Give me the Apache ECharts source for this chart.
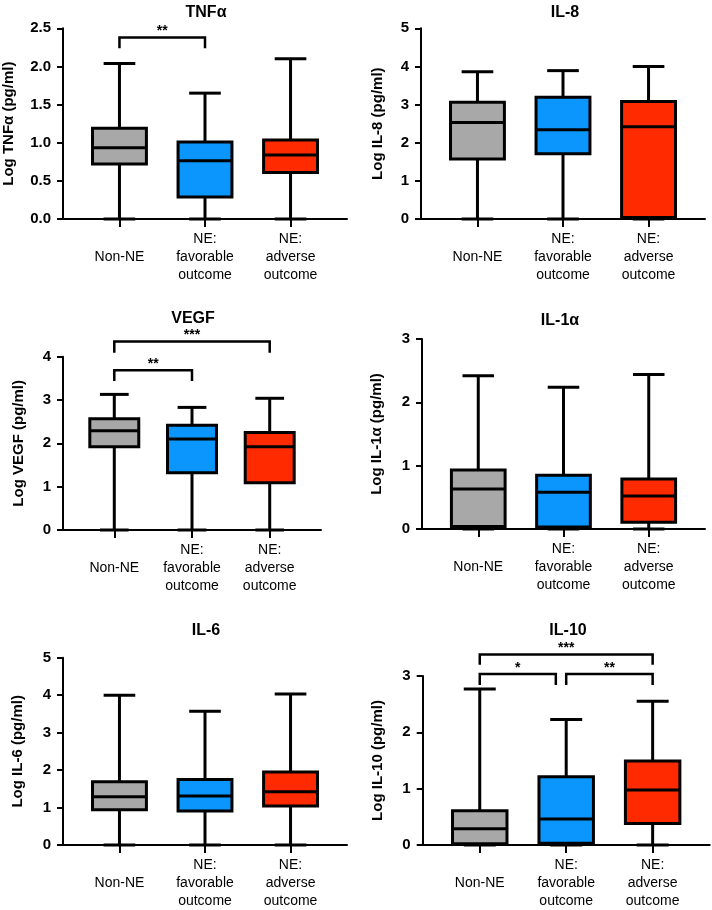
<!DOCTYPE html>
<html><head><meta charset="utf-8">
<script src="https://cdn.jsdelivr.net/npm/echarts@6/dist/echarts.min.js"></script>
<style>html,body{margin:0;padding:0;background:#fff}#c{width:712px;height:910px}</style>
</head><body><div id="c"></div>
<script>
// ---- data ----
const categories = ['Non-NE', 'NE:\nfavorable\noutcome', 'NE:\nadverse\noutcome'];
const panelTitles = ['TNFα', 'IL-8', 'VEGF', 'IL-1α', 'IL-6', 'IL-10'];
const yAxisNames = ['Log TNFα (pg/ml)', 'Log IL-8 (pg/ml)', 'Log VEGF (pg/ml)', 'Log IL-1α (pg/ml)', 'Log IL-6 (pg/ml)', 'Log IL-10 (pg/ml)'];
const yMax = [2.5, 5, 4, 3, 5, 3];
const yStep = [0.5, 1, 1, 1, 1, 1];
// [min, Q1, median, Q3, max] per group
const tnfBoxes  = [[0, 0.72, 0.935, 1.19, 2.04], [0, 0.29, 0.765, 1.01, 1.65], [0, 0.61, 0.84, 1.035, 2.10]];
const il8Boxes  = [[0, 1.57, 2.53, 3.06, 3.86], [0, 1.71, 2.34, 3.19, 3.89], [0, 0.04, 2.42, 3.08, 4.00]];
const vegfBoxes = [[0, 1.92, 2.29, 2.57, 3.13], [0, 1.32, 2.10, 2.42, 2.83], [0, 1.09, 1.92, 2.25, 3.04]];
const il1aBoxes = [[0, 0.04, 0.63, 0.93, 2.42], [0, 0.03, 0.58, 0.85, 2.24], [0, 0.105, 0.52, 0.79, 2.44]];
const il6Boxes  = [[0, 0.94, 1.29, 1.69, 4.00], [0, 0.91, 1.31, 1.75, 3.57], [0, 1.04, 1.42, 1.95, 4.03]];
const il10Boxes = [[0, 0.02, 0.29, 0.61, 2.77], [0, 0.03, 0.46, 1.21, 2.23], [0, 0.38, 0.975, 1.49, 2.55]];
// significance brackets: [from, to, level, legEnd, label]
const tnfBrackets  = [[0, 1, 2.38, 2.24, '**']];
const il8Brackets  = [];
const vegfBrackets = [[0, 1, 3.69, 3.44, '**'], [0, 2, 4.35, 4.09, '***']];
const il1aBrackets = [];
const il6Brackets  = [];
const il10Brackets = [[0, 0.88, 3.035, 2.84, '*'], [1, 2, 3.035, 2.84, '**'], [0, 2, 3.38, 3.20, '***']];

const allBoxes = [tnfBoxes, il8Boxes, vegfBoxes, il1aBoxes, il6Boxes, il10Boxes];
const allBrackets = [tnfBrackets, il8Brackets, vegfBrackets, il1aBrackets, il6Brackets, il10Brackets];

// ---- layout / style ----
const grids = [
  {left: 63, top: 28.3, width: 284, height: 190.7},
  {left: 421, top: 28.3, width: 284, height: 190.7},
  {left: 63, top: 356.7, width: 258, height: 173.3},
  {left: 422, top: 339, width: 283, height: 190},
  {left: 63, top: 657.7, width: 284, height: 190.6},
  {left: 422.7, top: 676, width: 287, height: 172.3}
];
const titlePos = [[201, 0], [560, 0], [188, 306], [555, 308], [201, 618], [563, 618]];
const nameGaps = [47, 35.5, 36.5, 37.5, 37.5, 37];
const boxColors = ['#a8a8a8', '#0a96fc', '#ff2a00'];
const FONT = '"Liberation Sans", Arial, Helvetica, sans-serif';
const BOXW = 0.63, CAPW = 0.37;

function boxRender(params, api) {
  const i = api.value(0);
  const mn = api.value(1), q1 = api.value(2), md = api.value(3), q3 = api.value(4), mx = api.value(5);
  const c = api.coord([i, 0]);
  const hw = api.size([BOXW, 0])[0] / 2;
  const cw = api.size([CAPW, 0])[0] / 2;
  const y = v => api.coord([i, v])[1];
  const x = c[0];
  const ls = {stroke: '#000', lineWidth: 3};
  return {type: 'group', children: [
    {type: 'line', shape: {x1: x, y1: y(mn), x2: x, y2: y(q1)}, style: ls},
    {type: 'line', shape: {x1: x, y1: y(q3), x2: x, y2: y(mx)}, style: ls},
    {type: 'line', shape: {x1: x - cw, y1: y(mn), x2: x + cw, y2: y(mn)}, style: ls},
    {type: 'line', shape: {x1: x - cw, y1: y(mx), x2: x + cw, y2: y(mx)}, style: ls},
    {type: 'rect', shape: {x: x - hw, y: y(q3), width: hw * 2, height: y(q1) - y(q3)},
      style: {fill: boxColors[i], stroke: '#000', lineWidth: 3}},
    {type: 'line', shape: {x1: x - hw, y1: y(md), x2: x + hw, y2: y(md)}, style: ls}
  ]};
}

function bracketRender(params, api) {
  const a = api.value(0), b = api.value(1), lv = api.value(2), le = api.value(3);
  const p1 = api.coord([a, le]), p2 = api.coord([a, lv]), p3 = api.coord([b, lv]), p4 = api.coord([b, le]);
  return {type: 'group', children: [
    {type: 'polyline', shape: {points: [p1, p2, p3, p4]}, style: {stroke: '#000', lineWidth: 2.5, fill: null}},
    {type: 'text', x: (p2[0] + p3[0]) / 2, y: p2[1] - 6,
      style: {text: api.value(4), font: 'bold 14px ' + FONT, fill: '#000', align: 'center', verticalAlign: 'middle'}}
  ]};
}

const option = {animation: false, backgroundColor: '#fff',
  title: [], grid: [], xAxis: [], yAxis: [], series: []};

for (let k = 0; k < 6; k++) {
  option.grid.push(grids[k]);
  option.title.push({text: panelTitles[k], left: titlePos[k][0], top: titlePos[k][1], textAlign: 'center',
    textStyle: {fontFamily: FONT, fontWeight: 'bold', fontSize: 16, color: '#000'}});
  option.xAxis.push({type: 'value', gridIndex: k, min: -0.66, max: 2.66,
    axisLine: {lineStyle: {color: '#000', width: 2}},
    axisTick: {customValues: [0, 1, 2], length: 8, lineStyle: {color: '#000', width: 2}},
    axisLabel: {customValues: [0, 1, 2], formatter: v => categories[Math.round(v)],
      fontFamily: FONT, fontSize: 14, color: '#000', lineHeight: 18, margin: 38, verticalAlign: 'middle'},
    splitLine: {show: false}});
  const dec = yStep[k] < 1 ? 1 : 0;
  option.yAxis.push({type: 'value', gridIndex: k, min: 0, max: yMax[k], interval: yStep[k],
    name: yAxisNames[k], nameLocation: 'middle', nameGap: nameGaps[k], nameRotate: 90,
    nameTextStyle: {fontFamily: FONT, fontWeight: 'bold', fontSize: 15, color: '#000'},
    axisLine: {show: true, onZero: false, lineStyle: {color: '#000', width: 2}},
    axisTick: {show: true, length: 6, lineStyle: {color: '#000', width: 2}},
    axisLabel: {formatter: v => v.toFixed(dec), fontFamily: FONT, fontWeight: 'bold', fontSize: 15, color: '#000', margin: 12},
    splitLine: {show: false}});
  option.series.push({type: 'custom', xAxisIndex: k, yAxisIndex: k, clip: false,
    data: allBoxes[k].map((b, i) => [i].concat(b)), renderItem: boxRender,
    encode: {x: 0, y: [1, 2, 3, 4, 5]}});
  if (allBrackets[k].length) {
    option.series.push({type: 'custom', xAxisIndex: k, yAxisIndex: k, clip: false,
      data: allBrackets[k], renderItem: bracketRender, encode: {x: [0, 1], y: [2, 3]}});
  }
}

const chart = echarts.init(document.getElementById('c'), null, {renderer: 'canvas'});
chart.setOption(option);
</script>
</body></html>
